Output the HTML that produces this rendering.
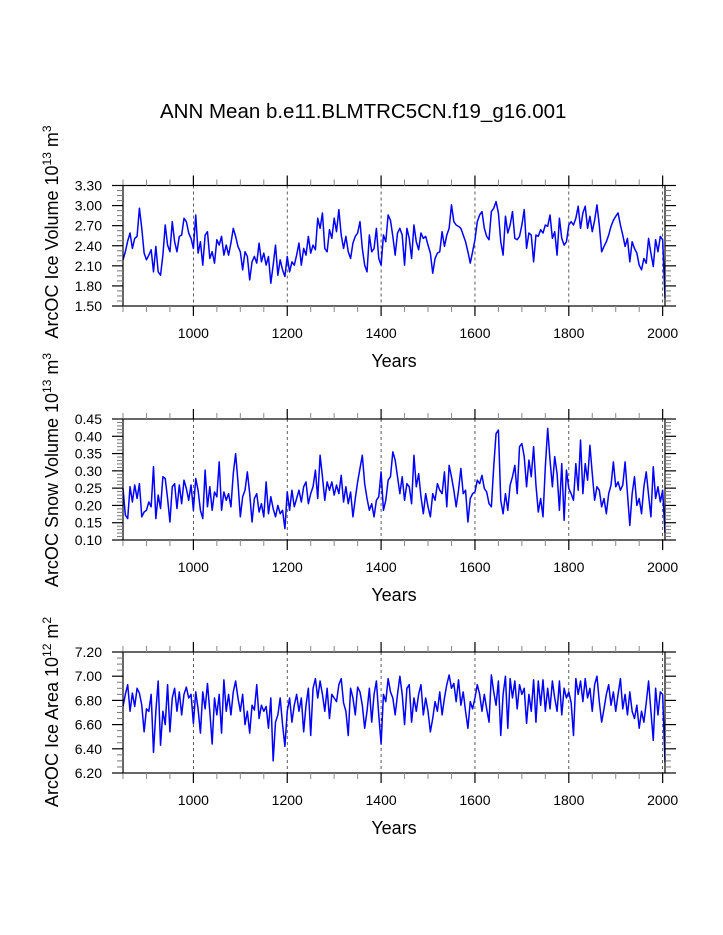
<!DOCTYPE html>
<html><head><meta charset="utf-8"><style>
html,body{margin:0;padding:0;background:#fff;}
svg{display:block;font-family:"Liberation Sans",Arial,sans-serif;}
</style></head><body>
<svg id="chart" width="723" height="935" viewBox="0 0 723 935" xmlns="http://www.w3.org/2000/svg">
<rect width="723" height="935" fill="#fff"/>
<text x="160" y="118" font-size="20.5" fill="#000">ANN Mean b.e11.BLMTRC5CN.f19_g16.001</text>
</svg>
<script>
const startYear = 850;
const yearStep = 5;
const xTickYears = [1000, 1200, 1400, 1600, 1800, 2000];
const iceVolume = [
2.19,2.31,2.47,2.59,2.36,2.51,2.54,2.96,2.66,2.29,
2.19,2.26,2.34,2.01,2.39,2.01,1.96,2.26,2.71,2.41,
2.31,2.76,2.46,2.31,2.54,2.56,2.81,2.76,2.59,2.51,
2.36,2.86,2.29,2.46,2.11,2.56,2.61,2.21,2.31,2.14,
2.49,2.41,2.54,2.26,2.41,2.26,2.44,2.66,2.54,2.39,
2.31,2.04,2.31,2.24,1.89,2.16,2.24,2.14,2.44,2.16,
2.29,2.11,2.24,1.84,2.11,2.41,1.96,2.19,2.04,1.94,
2.24,2.01,2.16,2.11,2.26,2.44,2.11,2.36,2.26,2.54,
2.29,2.41,2.34,2.81,2.66,2.89,2.36,2.31,2.64,2.51,
2.81,2.61,2.94,2.56,2.36,2.54,2.31,2.21,2.44,2.54,
2.59,2.76,2.36,2.11,2.01,2.56,2.31,2.36,2.66,2.21,
2.11,2.56,2.46,2.86,2.78,2.54,2.26,2.59,2.66,
2.56,2.11,2.66,2.51,2.21,2.71,2.46,2.34,2.59,2.51,2.54,
2.41,2.29,1.99,2.21,2.29,2.31,2.61,2.39,2.56,2.66,
3.01,2.76,2.71,2.69,2.66,2.56,2.46,2.31,2.14,2.31,
2.49,2.76,2.86,2.91,2.66,2.54,2.49,2.91,2.96,3.06,
2.89,2.46,2.26,2.84,2.59,2.71,2.91,2.51,2.49,2.54,
2.71,2.94,2.36,2.59,2.56,2.16,2.56,2.54,2.64,2.59,
2.71,2.69,2.86,2.51,2.61,2.26,2.81,2.51,2.41,2.46,
2.71,2.76,2.71,2.81,2.99,2.66,2.89,2.99,2.66,2.84,
2.61,2.78,3.01,2.71,2.31,2.39,2.46,2.56,2.69,2.78,
2.84,2.89,2.71,2.56,2.39,2.51,2.16,2.46,2.36,2.29,
2.11,2.04,2.21,2.14,2.51,2.29,2.09,2.49,2.31,2.54,
2.49,1.62];
const snowVolume = [
0.249,0.172,0.162,0.254,0.21,0.259,0.22,0.263,0.167,0.181,
0.186,0.21,0.196,0.312,0.162,0.23,0.191,0.283,0.278,0.22,
0.152,0.254,0.263,0.191,0.259,0.205,0.273,0.249,0.215,0.259,
0.186,0.278,0.244,0.186,0.162,0.302,0.196,0.254,0.186,0.239,
0.225,0.326,0.186,0.239,0.215,0.234,0.196,0.292,0.35,0.268,
0.167,0.225,0.244,0.297,0.234,0.152,0.22,0.234,0.181,0.205,
0.167,0.268,0.176,0.225,0.191,0.167,0.2,0.176,0.186,0.133,
0.239,0.186,0.244,0.196,0.22,0.244,0.21,0.254,0.268,0.205,
0.234,0.254,0.302,0.22,0.345,0.283,0.215,0.268,0.244,0.268,
0.23,0.259,0.234,0.287,0.21,0.254,0.205,0.239,0.167,0.22,
0.268,0.307,0.345,0.263,0.22,0.186,0.205,0.167,0.215,0.225,
0.297,0.186,0.215,0.273,0.283,0.355,0.331,0.283,0.234,
0.283,0.215,0.263,0.254,0.205,0.345,0.254,0.292,0.225,0.176,0.234,
0.196,0.167,0.234,0.215,0.263,0.244,0.234,0.297,0.196,0.316,
0.283,0.244,0.196,0.244,0.307,0.234,0.244,0.152,0.22,0.234,
0.239,0.273,0.263,0.287,0.249,0.239,0.205,0.196,0.312,0.408,
0.418,0.215,0.176,0.234,0.186,0.259,0.283,0.316,0.234,0.37,
0.379,0.341,0.254,0.331,0.283,0.37,0.259,0.181,0.22,0.167,
0.312,0.423,0.331,0.254,0.341,0.292,0.186,0.321,0.157,0.302,
0.249,0.234,0.215,0.321,0.244,0.389,0.234,0.321,0.273,0.374,
0.292,0.215,0.254,0.244,0.196,0.22,0.176,0.234,0.259,0.326,
0.254,0.268,0.244,0.259,0.326,0.234,0.142,0.234,0.283,0.2,
0.22,0.176,0.254,0.297,0.23,0.167,0.312,0.22,0.254,0.21,
0.244,0.12];
const iceArea = [
6.75,6.85,6.93,6.71,6.86,6.75,6.90,6.86,6.76,6.54,
6.73,6.71,6.85,6.37,6.71,6.96,6.43,6.71,6.60,6.93,
6.54,6.82,6.90,6.71,6.87,6.68,6.85,6.91,6.82,6.85,
6.61,6.87,6.73,6.53,6.87,6.73,6.94,6.71,6.44,6.82,
6.68,6.85,6.53,6.97,6.71,6.85,6.68,6.87,6.96,6.82,
6.71,6.85,6.60,6.71,6.53,6.76,6.72,6.93,6.65,6.76,
6.71,6.75,6.57,6.82,6.30,6.62,6.68,6.82,6.60,6.42,
6.71,6.82,6.62,6.76,6.85,6.71,6.82,6.54,6.76,6.90,
6.51,6.90,6.98,6.82,6.96,6.85,6.71,6.90,6.65,6.85,
6.82,6.79,6.93,6.98,6.78,6.71,6.51,6.90,6.82,6.68,
6.91,6.87,6.76,6.57,6.71,6.90,6.62,6.85,6.96,6.68,
6.44,6.85,6.79,6.98,6.87,6.82,6.68,6.85,7.00,
6.85,6.60,6.90,6.93,6.62,6.82,6.71,6.85,6.93,6.68,6.82,
6.71,6.54,6.65,6.79,6.71,6.87,6.68,6.82,6.93,7.01,
6.90,6.94,6.79,6.97,6.76,6.87,6.71,6.57,6.79,6.73,
6.82,6.93,6.85,6.71,6.85,6.73,6.62,7.01,6.87,6.76,
6.96,6.51,6.85,7.00,6.57,6.98,6.82,6.96,6.73,6.93,
6.85,6.90,6.61,6.85,6.71,6.97,6.62,6.96,6.76,6.97,
6.71,6.90,6.73,6.96,6.82,6.71,6.96,6.68,6.90,6.82,
6.87,6.78,6.51,6.98,6.85,6.96,6.79,6.98,6.82,6.90,
6.71,6.93,7.00,6.79,6.62,6.73,6.85,6.93,6.76,6.87,
6.71,6.85,6.98,6.73,6.85,6.68,6.87,6.71,6.65,6.76,
6.57,6.71,6.62,6.78,6.96,6.71,6.47,6.90,6.68,6.87,
6.85,6.29];
const iceVolumeTicks = [1.50, 1.80, 2.10, 2.40, 2.70, 3.00, 3.30];
const snowVolumeTicks = [0.10, 0.15, 0.20, 0.25, 0.30, 0.35, 0.40, 0.45];
const iceAreaTicks = [6.20, 6.40, 6.60, 6.80, 7.00, 7.20];

const NS = 'http://www.w3.org/2000/svg';
const svg = document.getElementById('chart');
const X0 = 123, X1 = 665, YR0 = 850, YR1 = 2005;
function xScale(yr){ return X0 + (yr - YR0) * (X1 - X0) / (YR1 - YR0); }
function mk(tag, attrs, parent){
  const e = document.createElementNS(NS, tag);
  for (const k in attrs) e.setAttribute(k, attrs[k]);
  (parent || svg).appendChild(e);
  return e;
}

function drawPanel(name, values, ticks, minorDiv, top, bottom, titleCy, titleParts){
  const g = mk('g', {});
  
  
  const ymin = ticks[0], ymax = ticks[ticks.length - 1];
  const yScale = v => bottom - (v - ymin) * (bottom - top) / (ymax - ymin);
  xTickYears.forEach(yr => {
    const l = mk('line', {x1: xScale(yr), x2: xScale(yr), y1: top, y2: bottom, stroke: '#333', 'stroke-width': 0.8, 'stroke-dasharray': '3,3'}, g);
    
    
  });
  let d = '';
  values.forEach((v, i) => {
    const yr = Math.min(startYear + i * yearStep, YR1);
    d += (i ? 'L' : 'M') + xScale(yr).toFixed(2) + ',' + yScale(v).toFixed(2);
  });
  const line = mk('path', {d: d, fill: 'none', stroke: '#0000ff', 'stroke-width': 1.5, 'stroke-linejoin': 'round'}, g);
  
  
  const fr = mk('rect', {x: X0, y: top, width: X1 - X0, height: bottom - top, fill: 'none', stroke: '#000', 'stroke-width': 1.2}, g);
  
  
  for (let yr = 850; yr <= 2005; yr += 50) {
    const major = yr % 200 === 0;
    const len = major ? 10 : 6;
    const x = xScale(yr);
    mk('line', {x1: x, x2: x, y1: bottom, y2: bottom + len, stroke: major ? '#000' : '#888', 'stroke-width': major ? 1.2 : 1}, g);
    mk('line', {x1: x, x2: x, y1: top, y2: top - len, stroke: major ? '#000' : '#888', 'stroke-width': major ? 1.2 : 1}, g);
  }
  xTickYears.forEach(yr => {
    const t = mk('text', {x: xScale(yr), y: bottom + 32, 'font-size': 14, 'text-anchor': 'middle'}, g);
    t.textContent = yr;
    
    
  });
  const xt = mk('text', {x: 394, y: bottom + 61, 'font-size': 18, 'text-anchor': 'middle'}, g);
  xt.textContent = 'Years';
  
  
  const step = ticks[1] - ticks[0];
  for (let i = 0; i < ticks.length; i++) {
    const y = yScale(ticks[i]);
    mk('line', {x1: X0, x2: X0 - 11, y1: y, y2: y, stroke: '#000', 'stroke-width': 1.2}, g);
    mk('line', {x1: X1, x2: X1 + 11, y1: y, y2: y, stroke: '#000', 'stroke-width': 1.2}, g);
    const t = mk('text', {x: 102, y: y + 5, 'font-size': 14, 'text-anchor': 'end'}, g);
    t.textContent = ticks[i].toFixed(2);
    
    
    if (i < ticks.length - 1) {
      for (let k = 1; k < minorDiv; k++) {
        const ym = yScale(ticks[i] + step * k / minorDiv);
        mk('line', {x1: X0, x2: X0 - 6, y1: ym, y2: ym, stroke: '#777', 'stroke-width': 1}, g);
        mk('line', {x1: X1, x2: X1 + 6, y1: ym, y2: ym, stroke: '#777', 'stroke-width': 1}, g);
      }
    }
  }
  const cy = titleCy;
  const yt = mk('text', {x: 58, y: cy, 'font-size': 18, 'text-anchor': 'middle', transform: 'rotate(-90 58 ' + cy + ')'}, g);
  
  
  yt.innerHTML = titleParts[0] + '<tspan dy="-7" font-size="12">' + titleParts[1] + '</tspan><tspan dy="7"> ' + titleParts[2] + '</tspan><tspan dy="-7" font-size="12">' + titleParts[3] + '</tspan><tspan dy="7"> </tspan>';
}

drawPanel('ice-volume', iceVolume, iceVolumeTicks, 4, 185.5, 306, 232, ['ArcOC Ice Volume 10', '13', 'm', '3']);
drawPanel('snow-volume', snowVolume, snowVolumeTicks, 5, 419, 540, 470, ['ArcOC Snow Volume 10', '13', 'm', '3']);
drawPanel('ice-area', iceArea, iceAreaTicks, 4, 652, 773, 712, ['ArcOC Ice Area 10', '12', 'm', '2']);
</script>
</body></html>
